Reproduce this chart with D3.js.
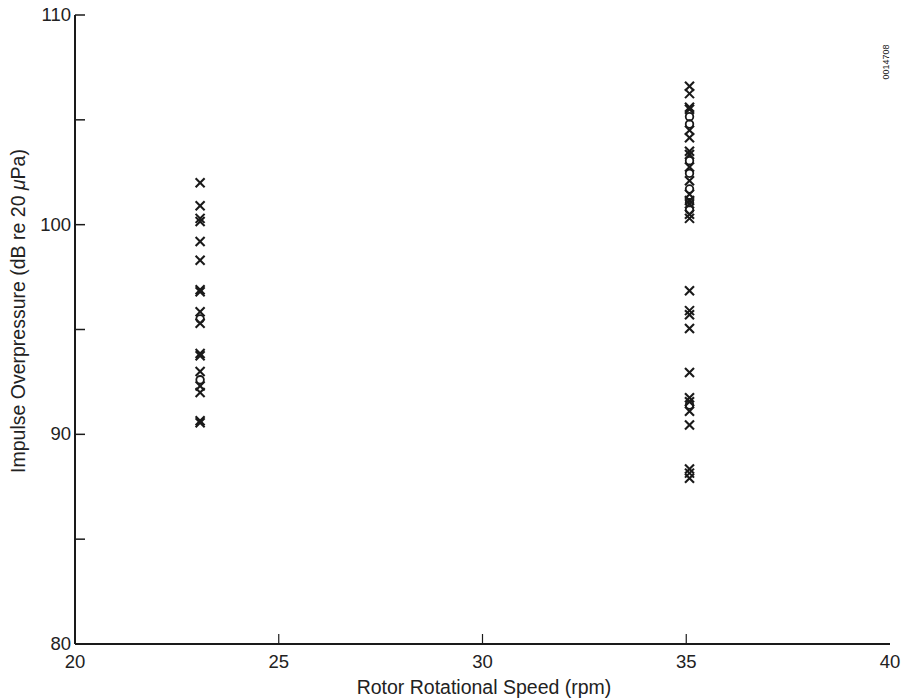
<!DOCTYPE html>
<html>
<head>
<meta charset="utf-8">
<script src="https://cdn.jsdelivr.net/npm/d3@7"></script>
<style>
  html, body { margin: 0; padding: 0; background: #fff; }
  svg { display: block; }
  text { font-family: "Liberation Sans", Arial, sans-serif; fill: #222; }
</style>
</head>
<body>
<svg id="chart" width="902" height="700"></svg>
<script>
// Rotor speeds at which impulse overpressure was measured (rpm)
const rotorSpeeds = [23.07, 35.08];

// Impulse overpressure readings, dB re 20 µPa
const crosses23 = [102.0, 100.9, 100.3, 100.15, 99.2, 98.3, 96.9, 96.8, 95.85, 95.3,
                   93.85, 93.75, 93.0, 92.3, 92.0, 90.65, 90.55];
const circles23 = [95.5, 92.6];
const crosses35 = [106.6, 106.25, 105.6, 105.5, 104.5, 104.15, 103.5, 103.35, 102.75,
                   102.1, 101.45, 101.15, 101.0, 100.5, 100.3,
                   96.85, 95.9, 95.7, 95.05, 92.95, 91.75, 91.55, 91.1, 90.45,
                   88.35, 88.15, 87.9];
const circles35 = [105.15, 104.8, 103.05, 102.45, 101.7, 101.05, 100.7, 91.4];

// Axis ticks
const xTicks = [20, 25, 30, 35, 40];
const yTicks = [80, 85, 90, 95, 100, 105, 110];
const yTickLabels = [80, 90, 100, 110];

const svg = d3.select("#chart");
const x = d3.scaleLinear().domain([20, 40]).range([75, 890]);
const y = d3.scaleLinear().domain([80, 110]).range([644, 15]);

const ink = "#1a1a1a";
const labelSize = 18.5;
const titleSize = 19.5;

// Axis frame: left and bottom lines
svg.append("line").attr("x1", x(20)).attr("x2", x(20)).attr("y1", y(110)).attr("y2", y(80))
  .attr("stroke", ink).attr("stroke-width", 2);
svg.append("line").attr("x1", x(20)).attr("x2", x(40)).attr("y1", y(80)).attr("y2", y(80))
  .attr("stroke", ink).attr("stroke-width", 2);

// Y ticks point inward
svg.selectAll(".ytick").data(yTicks.filter(d => d !== 80)).enter().append("line")
  .attr("x1", x(20)).attr("x2", x(20) + 10)
  .attr("y1", d => y(d)).attr("y2", d => y(d))
  .attr("stroke", ink).attr("stroke-width", 1.5);

svg.selectAll(".ylab").data(yTickLabels).enter().append("text")
  .attr("x", x(20) - 4).attr("y", d => y(d) + 6)
  .attr("text-anchor", "end").attr("font-size", labelSize)
  .text(d => d);

// X ticks point upward
svg.selectAll(".xtick").data(xTicks.filter(d => d !== 20 && d !== 40)).enter().append("line")
  .attr("x1", d => x(d)).attr("x2", d => x(d))
  .attr("y1", y(80)).attr("y2", y(80) - 10)
  .attr("stroke", ink).attr("stroke-width", 1.2);

svg.selectAll(".xlab").data(xTicks).enter().append("text")
  .attr("x", d => x(d)).attr("y", y(80) + 24)
  .attr("text-anchor", "middle").attr("font-size", labelSize)
  .text(d => d);

// Axis titles
svg.append("text").attr("x", 484).attr("y", 694)
  .attr("text-anchor", "middle").attr("font-size", titleSize)
  .text("Rotor Rotational Speed (rpm)");

const yTitle = svg.append("text")
  .attr("transform", "translate(25, 311) rotate(-90)")
  .attr("text-anchor", "middle").attr("font-size", titleSize);
yTitle.append("tspan").text("Impulse Overpressure (dB re 20 ");
yTitle.append("tspan").attr("font-style", "italic").text("μ");
yTitle.append("tspan").text("Pa)");

// Figure reference number
svg.append("text")
  .attr("transform", "translate(889, 62) rotate(-90)")
  .attr("text-anchor", "middle").attr("font-size", 9).attr("fill", "#444")
  .text("0014708");

// Markers
function drawCrosses(speed, values) {
  const s = 4.5;
  const g = svg.append("g").attr("stroke", ink).attr("stroke-width", 2.1).attr("stroke-linecap", "butt");
  values.forEach(v => {
    const cx = x(speed), cy = y(v);
    g.append("line").attr("x1", cx - s).attr("y1", cy - s).attr("x2", cx + s).attr("y2", cy + s);
    g.append("line").attr("x1", cx - s).attr("y1", cy + s).attr("x2", cx + s).attr("y2", cy - s);
  });
}
function drawCircles(speed, values) {
  svg.append("g").selectAll("circle").data(values).enter().append("circle")
    .attr("cx", x(speed)).attr("cy", d => y(d)).attr("r", 3.8)
    .attr("fill", "none").attr("stroke", ink).attr("stroke-width", 1.8);
}

drawCrosses(rotorSpeeds[0], crosses23);
drawCircles(rotorSpeeds[0], circles23);
drawCrosses(rotorSpeeds[1], crosses35);
drawCircles(rotorSpeeds[1], circles35);
</script>
</body>
</html>
